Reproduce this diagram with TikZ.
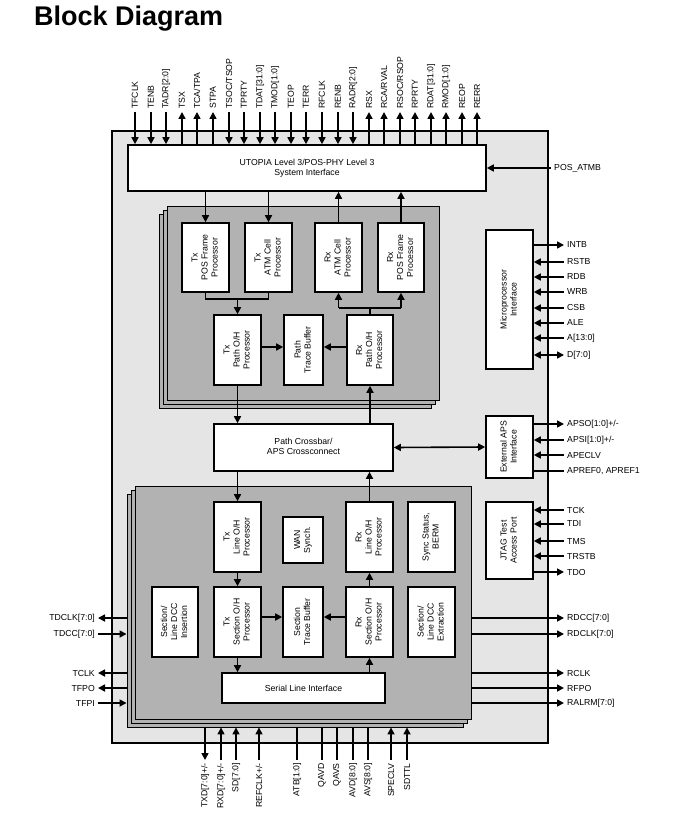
\documentclass[tikz,border=0pt]{standalone}
\usepackage{fontspec}
\setmainfont{Liberation Sans}
\usetikzlibrary{arrows.meta}
\definecolor{chipbg}{gray}{0.9}
\definecolor{layerbg}{gray}{0.7}
\newcommand\vtxt[1]{\rotatebox{90}{\begin{tabular}{@{}c@{}}#1\end{tabular}}}
\newcommand\htxt[1]{\begin{tabular}{@{}c@{}}#1\end{tabular}}
% box from corners: \bx{style}{x1}{y1}{x2}{y2}{name}{text}
\newcommand\bx[7]{%
  \node[#1, minimum width={(#4-#2)*1pt}, minimum height={(#5-#3)*1pt}] (#6) at ({(#2+#4)/2},{(#3+#5)/2}) {#7};}
\newcommand\rpin[5]{%
  \node[lbl, anchor=west] (#1) at (564,#3) {#2};
  \draw[pin,#4] (#5.east |- #1.west) -- (#1.west);}
\newcommand\lpin[4]{%
  \node[lbl, anchor=east] (#1) at (98,#3) {#2};
  \draw[pin,#4] (ls3.west |- #1.east) -- (#1.east);}
\newcommand\tpin[4]{%
  \node[lbl, rotate=90, anchor=west] (#1) at (#3,112) {#2};
  \draw[pin,#4] (#1.west |- uto.north) -- (#1.west);}
\newcommand\bpin[4]{%
  \node[lbl, rotate=90, anchor=east] (#1) at (#3,760) {#2};
  \draw[pin,#4] (ls3.south -| #1.east) -- (#1.east);}
\begin{document}
\begin{tikzpicture}[x=1pt,y=-1pt,
  >={Triangle[length=7pt,width=7pt]},
  every node/.style={font=\fontsize{8.7}{10}\selectfont},
  chip/.style={draw, line width=1.3pt, fill=chipbg, inner sep=0pt},
  layer/.style={draw, line width=0.9pt, fill=layerbg, inner sep=0pt},
  blk/.style={draw, line width=1.6pt, fill=white, inner sep=0pt},
  lbl/.style={inner sep=3pt},
  pin/.style={line width=1.6pt},
  pinout/.style={->},
  pinin/.style={<-},
  pinbi/.style={<->},
  pinnone/.style={-}]
\useasboundingbox (0,0) rectangle (675,840);
\fill[white] (0,0) rectangle (675,840);
\node[anchor=west, inner sep=0pt, font=\bfseries\fontsize{27}{32}\selectfont] (title) at (34,19) {Block Diagram};

% chip
\bx{chip}{112}{131}{548}{743}{chipbox}{}
\bx{blk}{128}{145}{486}{191}{uto}{\htxt{UTOPIA Level 3/POS-PHY Level 3\\System Interface}}

% upper stack
\bx{layer}{159}{214}{431}{408}{us3}{}
\bx{layer}{163}{210}{435}{404}{us2}{}
\bx{layer}{167}{206}{439}{400}{us1}{}
\bx{blk}{182}{223}{229}{292}{txpos}{\vtxt{Tx\\POS Frame\\Processor}}
\bx{blk}{245}{223}{292}{292}{txatm}{\vtxt{Tx\\ATM Cell\\Processor}}
\bx{blk}{315}{223}{362}{292}{rxatm}{\vtxt{Rx\\ATM Cell\\Processor}}
\bx{blk}{378}{223}{424}{292}{rxpos}{\vtxt{Rx\\POS Frame\\Processor}}
\bx{blk}{214}{315}{261}{385}{txpoh}{\vtxt{Tx\\Path O/H\\Processor}}
\bx{blk}{284}{315}{323}{385}{ptb}{\vtxt{Path\\Trace Buffer}}
\bx{blk}{347}{315}{393}{385}{rxpoh}{\vtxt{Rx\\Path O/H\\Processor}}

% crossbar
\bx{blk}{214}{424}{393}{471}{xbar}{\htxt{Path Crossbar/\\APS Crossconnect}}

% lower stack
\bx{layer}{127}{494}{463}{727}{ls3}{}
\bx{layer}{131}{490}{467}{723}{ls2}{}
\bx{layer}{135}{486}{471}{719}{ls1}{}
\bx{blk}{214}{502}{261}{572}{txloh}{\vtxt{Tx\\Line O/H\\Processor}}
\bx{blk}{283}{517}{323}{563}{wan}{\vtxt{WAN\\Synch.}}
\bx{blk}{346}{502}{393}{572}{rxloh}{\vtxt{Rx\\Line O/H\\Processor}}
\bx{blk}{408}{502}{455}{572}{sync}{\vtxt{Sync Status,\\BERM}}
\bx{blk}{152}{587}{198}{657}{dccins}{\vtxt{Section/\\Line DCC\\Insertion}}
\bx{blk}{214}{587}{261}{657}{txsoh}{\vtxt{Tx\\Section O/H\\Processor}}
\bx{blk}{283}{587}{323}{657}{stb}{\vtxt{Section\\Trace Buffer}}
\bx{blk}{346}{587}{393}{657}{rxsoh}{\vtxt{Rx\\Section O/H\\Processor}}
\bx{blk}{408}{587}{455}{657}{dccext}{\vtxt{Section/\\Line DCC\\Extraction}}
\bx{blk}{222}{673}{385}{703}{sli}{Serial Line Interface}

% right blocks
\bx{blk}{486}{230}{533}{369}{mpi}{\vtxt{Microprocessor\\Interface}}
\bx{blk}{486}{416}{533}{478}{aps}{\vtxt{External APS\\Interface}}
\bx{blk}{486}{502}{533}{579}{jtag}{\vtxt{JTAG Test\\Access Port}}

% internal connectors (upper)
\draw[pin,->] (txpos.north |- uto.south) -- (txpos.north);
\draw[pin,->] (txatm.north |- uto.south) -- (txatm.north);
\draw[pin,->] (rxatm.north) -- (rxatm.north |- uto.south);
\draw[pin,->] (rxpos.north) -- (rxpos.north |- uto.south);
\coordinate (txm) at (237.5,299);
\draw[pin] (txpos.south) -- (txpos.south |- txm) -- (txatm.south |- txm) -- (txatm.south);
\draw[pin,->] (txm) -- (txm |- txpoh.north);
\coordinate (rxm) at (370,308);
\draw[pin] (rxpoh.north) -- (rxm);
\draw[pin] (rxatm.south |- rxm) -- (rxpos.south |- rxm);
\draw[pin,->] (rxatm.south |- rxm) -- (rxatm.south);
\draw[pin,->] (rxpos.south |- rxm) -- (rxpos.south);
\coordinate (ptby) at (0,347);
\draw[pin,->] (txpoh.east |- ptby) -- (ptb.west |- ptby);
\draw[pin,->] (rxpoh.west |- ptby) -- (ptb.east |- ptby);
\draw[pin,->] (txpoh.south) -- (txpoh.south |- xbar.north);
\draw[pin,->] (rxpoh.south |- xbar.north) -- (rxpoh.south);
\draw[pin,->] (txloh.north |- xbar.south) -- (txloh.north);
\draw[pin,->] (rxloh.north) -- (rxloh.north |- xbar.south);
\draw[pin,<->] (xbar.east) -- (aps.west);

% internal connectors (lower)
\draw[pin,->] (txloh.south) -- (txsoh.north);
\draw[pin,->] (txsoh.south) -- (txsoh.south |- sli.north);
\coordinate (stby) at (0,617);
\draw[pin,->] (txsoh.east |- stby) -- (stb.west |- stby);
\draw[pin,->] (rxsoh.west |- stby) -- (stb.east |- stby);
\draw[pin,->] (rxsoh.south |- sli.north) -- (rxsoh.south);
\draw[pin,->] (rxsoh.north) -- (rxloh.south);

% POS_ATMB
\node[lbl, anchor=west] (posatmb) at (551,168) {POS\_ATMB};
\draw[pin,->] (posatmb.west) -- (uto.east |- posatmb.west);

% top pins
\tpin{p1}{TFCLK}{135}{pinin}
\tpin{p2}{TENB}{151}{pinin}
\tpin{p3}{TADR[2:0]}{166}{pinin}
\tpin{p4}{TSX}{182}{pinout}
\tpin{p5}{TCA/TPA}{197}{pinout}
\tpin{p6}{STPA}{213}{pinout}
\tpin{p7}{TSOC/TSOP}{229}{pinin}
\tpin{p8}{TPRTY}{244}{pinin}
\tpin{p9}{TDAT[31:0]}{260}{pinin}
\tpin{p10}{TMOD[1:0]}{275}{pinin}
\tpin{p11}{TEOP}{291}{pinin}
\tpin{p12}{TERR}{306}{pinin}
\tpin{p13}{RFCLK}{322}{pinin}
\tpin{p14}{RENB}{338}{pinin}
\tpin{p15}{RADR[2:0]}{353}{pinin}
\tpin{p16}{RSX}{369}{pinout}
\tpin{p17}{RCA/RVAL}{384}{pinout}
\tpin{p18}{RSOC/RSOP}{400}{pinout}
\tpin{p19}{RPRTY}{415}{pinout}
\tpin{p20}{RDAT[31:0]}{431}{pinout}
\tpin{p21}{RMOD[1:0]}{446}{pinout}
\tpin{p22}{REOP}{462}{pinout}
\tpin{p23}{RERR}{477}{pinout}

% right pins
\rpin{intb}{INTB}{245}{pinout}{mpi}
\rpin{rstb}{RSTB}{262}{pinin}{mpi}
\rpin{rdb}{RDB}{277}{pinin}{mpi}
\rpin{wrb}{WRB}{292}{pinin}{mpi}
\rpin{csb}{CSB}{308}{pinin}{mpi}
\rpin{ale}{ALE}{323}{pinin}{mpi}
\rpin{addr}{A[13:0]}{338}{pinin}{mpi}
\rpin{data}{D[7:0]}{355}{pinbi}{mpi}
\rpin{apso}{APSO[1:0]+/-}{424}{pinout}{aps}
\rpin{apsi}{APSI[1:0]+/-}{440}{pinin}{aps}
\rpin{apeclv}{APECLV}{455}{pinin}{aps}
\rpin{apref}{APREF0, APREF1}{471}{pinnone}{aps}
\rpin{tck}{TCK}{510}{pinin}{jtag}
\rpin{tdi}{TDI}{524}{pinin}{jtag}
\rpin{tms}{TMS}{541}{pinin}{jtag}
\rpin{trstb}{TRSTB}{556}{pinin}{jtag}
\rpin{tdo}{TDO}{572}{pinout}{jtag}
\rpin{rdcc}{RDCC[7:0]}{618}{pinout}{ls1}
\rpin{rdclk}{RDCLK[7:0]}{634}{pinout}{ls1}
\rpin{rclk}{RCLK}{673}{pinout}{ls1}
\rpin{rfpo}{RFPO}{688}{pinout}{ls1}
\rpin{ralrm}{RALRM[7:0]}{703}{pinout}{ls1}

% left pins
\lpin{tdclk}{TDCLK[7:0]}{618}{pinout}
\lpin{tdcc}{TDCC[7:0]}{634}{pinin}
\lpin{tclk}{TCLK}{673}{pinout}
\lpin{tfpo}{TFPO}{688}{pinout}
\lpin{tfpi}{TFPI}{703}{pinin}

% bottom pins
\bpin{txd}{TXD[7:0]+/-}{205}{pinout}
\bpin{rxd}{RXD[7:0]+/-}{221}{pinin}
\bpin{sd}{SD[7:0]}{236}{pinin}
\bpin{refclk}{REFCLK+/-}{259}{pinin}
\bpin{atb}{ATB[1:0]}{297}{pinnone}
\bpin{qavd}{QAVD}{322}{pinnone}
\bpin{qavs}{QAVS}{337}{pinnone}
\bpin{avd}{AVD[8:0]}{353}{pinnone}
\bpin{avs}{AVS[8:0]}{368}{pinnone}
\bpin{speclv}{SPECLV}{391}{pinin}
\bpin{sdttl}{SDTTL}{407}{pinin}
\end{tikzpicture}
\end{document}
